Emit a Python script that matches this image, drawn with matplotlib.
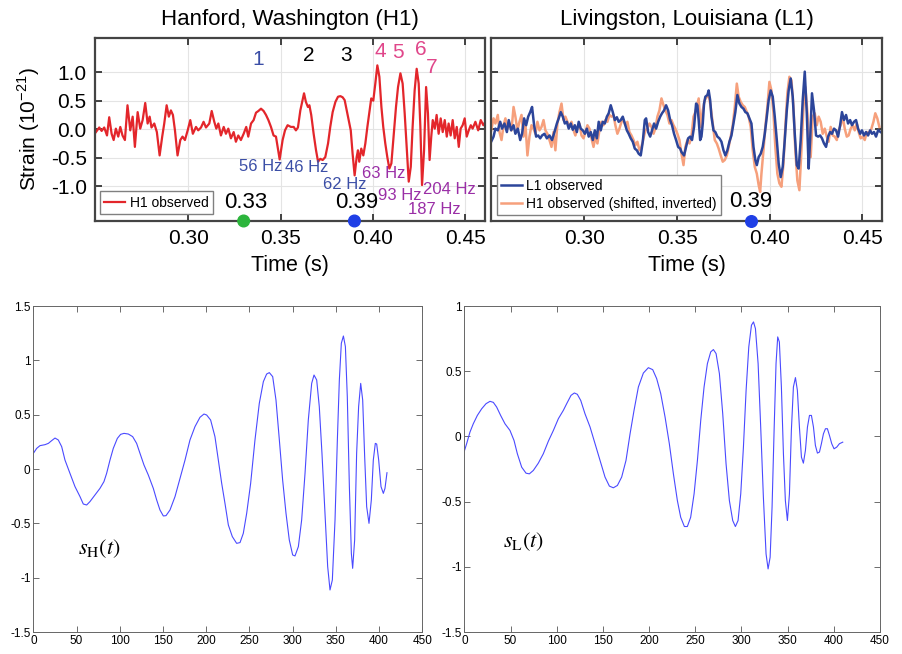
"""
GW150914: observed strain at H1 / L1 (top) and the fitted waveforms s_H(t), s_L(t) (bottom)
"""
import matplotlib
matplotlib.use('Agg')
import matplotlib.pyplot as plt
import numpy as np

plt.rcParams['font.family'] = ['Liberation Sans', 'DejaVu Sans']
plt.rcParams['axes.unicode_minus'] = False

# ---- top left: H1 observed ----
h1_t = np.array([
    0.2500, 0.2518, 0.2531, 0.2545, 0.2560, 0.2572, 0.2585, 0.2596, 0.2608, 0.2621,
    0.2632, 0.2644, 0.2657, 0.2671, 0.2686, 0.2699, 0.2711, 0.2726, 0.2740, 0.2753,
    0.2767, 0.2780, 0.2791, 0.2801, 0.2816, 0.2830, 0.2845, 0.2859, 0.2870, 0.2883,
    0.2895, 0.2906, 0.2917, 0.2928, 0.2942, 0.2957, 0.2969, 0.2982, 0.2997, 0.3011,
    0.3025, 0.3042, 0.3054, 0.3069, 0.3083, 0.3096, 0.3114, 0.3127, 0.3141, 0.3152,
    0.3163, 0.3177, 0.3192, 0.3204, 0.3217, 0.3231, 0.3246, 0.3258, 0.3271, 0.3285,
    0.3300, 0.3314, 0.3325, 0.3340, 0.3354, 0.3367, 0.3380, 0.3394, 0.3408, 0.3421,
    0.3434, 0.3448, 0.3462, 0.3475, 0.3484, 0.3495, 0.3511, 0.3524, 0.3538, 0.3556,
    0.3571, 0.3583, 0.3594, 0.3607, 0.3619, 0.3627, 0.3637, 0.3648, 0.3656,
    0.3666, 0.3679, 0.3692, 0.3703, 0.3715, 0.3728, 0.3742, 0.3757, 0.3769, 0.3782,
    0.3797, 0.3811, 0.3824, 0.3836, 0.3847, 0.3860, 0.3869, 0.3880, 0.3890, 0.3901,
    0.3912, 0.3919, 0.3926, 0.3937, 0.3948, 0.3959, 0.3970, 0.3981, 0.3991, 0.4002,
    0.4013, 0.4024, 0.4035, 0.4046, 0.4056, 0.4067, 0.4078, 0.4089, 0.4100, 0.4112,
    0.4125, 0.4136, 0.4149, 0.4161, 0.4172, 0.4183, 0.4194, 0.4205, 0.4215, 0.4226,
    0.4237, 0.4248, 0.4257, 0.4266, 0.4277, 0.4288, 0.4298, 0.4307, 0.4316, 0.4324,
    0.4335, 0.4345, 0.4356, 0.4367, 0.4378, 0.4389, 0.4400, 0.4410, 0.4421, 0.4432,
    0.4443, 0.4454, 0.4465, 0.4475, 0.4486, 0.4497, 0.4508, 0.4519, 0.4530, 0.4540,
    0.4555, 0.4570, 0.4584, 0.4598, 0.4609])
h1_strain = np.array([
    -0.05, 0.03, -0.03, 0.03, -0.11, 0.21, -0.08, -0.19, 0.01, -0.13,
    0.04, -0.11, -0.19, 0.42, -0.02, 0.22, -0.31, 0.30, 0.01, 0.16,
    0.46, 0.10, 0.22, 0.03, 0.10, -0.05, -0.46, -0.13, 0.10, 0.42,
    0.22, 0.33, 0.25, -0.02, -0.46, -0.19, -0.13, -0.19, -0.02, 0.16,
    -0.08, 0.04, -0.02, 0.03, 0.13, 0.03, 0.10, 0.32, 0.13, 0.01,
    0.10, -0.11, 0.04, -0.08, 0.01, -0.16, -0.05, -0.22, -0.11, -0.19,
    -0.08, 0.04, -0.13, 0.10, 0.16, 0.29, 0.32, 0.36, 0.32, 0.25,
    0.16, 0.04, -0.11, -0.13, -0.31, -0.53, -0.19, -0.02, 0.07, 0.04,
    0.04, -0.02, 0.03, 0.33, 0.51, 0.63, 0.48, 0.39, 0.42,
    0.25, -0.08, -0.37, -0.57, -0.52, -0.54, -0.49, -0.25, 0.04, 0.30,
    0.48, 0.57, 0.58, 0.56, 0.51, 0.30, 0.16, -0.02, -0.43, -0.81,
    -0.49, -0.37, -0.57, -0.34, -0.46, -0.25, 0.04, 0.30, 0.54, 0.50,
    0.80, 1.12, 0.92, 0.39, 0.04, -0.25, -0.49, -0.69, -0.60, -0.13,
    0.39, 0.74, 0.98, 0.80, 0.28, -0.31, -0.92, -0.66, 0.04, 0.68,
    1.06, 0.80, 0.04, -0.98, -0.37, 0.74, 0.28, -0.54, -0.13, 0.16,
    0.01, 0.25, -0.08, 0.19, -0.05, 0.16, -0.13, 0.10, -0.11, 0.16,
    -0.16, 0.04, -0.31, 0.01, 0.07, 0.19, -0.13, -0.02, 0.07, 0.01,
    0.13, -0.02, 0.16, 0.07, 0.13])

# ---- top right: L1 observed ----
l1_t = np.array([
    0.2496, 0.2509, 0.2519, 0.2532, 0.2545, 0.2555, 0.2568, 0.2581, 0.2591, 0.2604,
    0.2617, 0.2627, 0.2640, 0.2653, 0.2663, 0.2674, 0.2685, 0.2696, 0.2707, 0.2717,
    0.2728, 0.2739, 0.2750, 0.2761, 0.2771, 0.2784, 0.2797, 0.2811, 0.2825, 0.2838,
    0.2851, 0.2861, 0.2872, 0.2883, 0.2894, 0.2905, 0.2915, 0.2926, 0.2937, 0.2948,
    0.2959, 0.2969, 0.2980, 0.2991, 0.3002, 0.3013, 0.3023, 0.3034, 0.3045, 0.3056,
    0.3067, 0.3077, 0.3088, 0.3099, 0.3110, 0.3121, 0.3131, 0.3142, 0.3153, 0.3164,
    0.3175, 0.3185, 0.3196, 0.3207, 0.3218, 0.3229, 0.3239, 0.3250, 0.3261, 0.3272,
    0.3283, 0.3293, 0.3304, 0.3315, 0.3326, 0.3333, 0.3344, 0.3355, 0.3365, 0.3376,
    0.3387, 0.3398, 0.3409, 0.3419, 0.3430, 0.3441, 0.3452, 0.3463, 0.3473, 0.3484,
    0.3495, 0.3506, 0.3517,
    0.3524, 0.3538, 0.3549, 0.3560, 0.3571, 0.3581, 0.3592, 0.3603, 0.3610, 0.3617,
    0.3625, 0.3632, 0.3639, 0.3646, 0.3653, 0.3664, 0.3671, 0.3679, 0.3686, 0.3697,
    0.3707, 0.3718, 0.3729, 0.3740, 0.3751, 0.3761, 0.3772, 0.3783, 0.3794, 0.3805,
    0.3815, 0.3826, 0.3837, 0.3848, 0.3859, 0.3869, 0.3880, 0.3891, 0.3902, 0.3913,
    0.3923, 0.3931, 0.3941, 0.3952, 0.3963, 0.3974, 0.3985, 0.3995, 0.4006, 0.4017,
    0.4028, 0.4039, 0.4049, 0.4060, 0.4071, 0.4082, 0.4093, 0.4103, 0.4114, 0.4125,
    0.4136, 0.4147, 0.4157, 0.4168, 0.4179, 0.4190, 0.4201, 0.4211, 0.4219, 0.4229,
    0.4240, 0.4251, 0.4262, 0.4273, 0.4283, 0.4294, 0.4305, 0.4316, 0.4327, 0.4337,
    0.4348, 0.4359, 0.4370, 0.4381, 0.4391, 0.4402, 0.4413, 0.4424, 0.4435, 0.4445,
    0.4456, 0.4467, 0.4478, 0.4489, 0.4499, 0.4510, 0.4521, 0.4532, 0.4543, 0.4553,
    0.4564, 0.4575, 0.4586, 0.4600])
l1_strain = np.array([
    -0.22, -0.13, 0.01, -0.02, 0.13, 0.01, 0.10, -0.05, 0.16, -0.02,
    0.07, -0.08, 0.01, -0.19, -0.08, 0.19, 0.07, 0.22, 0.30, 0.39,
    0.07, -0.13, -0.11, -0.16, -0.11, -0.08, -0.16, -0.11, -0.19, -0.05,
    0.10, 0.19, 0.30, 0.22, 0.10, 0.13, 0.01, 0.10, -0.01, 0.07,
    -0.05, 0.13, 0.01, -0.02, -0.08, 0.01, -0.13, -0.05, -0.19, -0.02,
    -0.16, 0.13, -0.02, 0.13, 0.10, 0.22, 0.28, 0.42, 0.30, 0.16,
    0.21, 0.13, 0.16, 0.22, 0.10, -0.02, -0.08, -0.16, -0.22, -0.34,
    -0.37, -0.43, -0.46, -0.22, 0.16, 0.19, -0.05, -0.13, -0.02, 0.10,
    0.01, 0.13, 0.22, 0.28, 0.33, 0.42, 0.33, 0.16, 0.07, -0.08,
    -0.19, -0.31, -0.34,
    -0.40, -0.46, -0.31, -0.16, -0.13, -0.19, 0.04, 0.45, 0.42, 0.16,
    -0.19, -0.13, 0.10, 0.45, 0.57, 0.60, 0.68, 0.51, 0.22, -0.02,
    -0.05, -0.13, -0.16, -0.22, -0.37, -0.46, -0.37, -0.22, -0.11, 0.10,
    0.30, 0.60, 0.45, 0.39, 0.36, 0.30, 0.28, 0.19, 0.10, -0.31,
    -0.54, -0.63, -0.49, -0.43, -0.31, -0.08, 0.22, 0.51, 0.68, 0.57,
    0.22, -0.19, -0.60, -0.84, -0.66, -0.19, 0.33, 0.68, 0.89, 0.57,
    -0.08, -0.63, -0.69, -0.19, 0.51, 1.01, 0.28, -0.69, -0.19, 0.63,
    0.33, -0.11, -0.13, -0.11, -0.16, -0.25, -0.31, -0.13, -0.05, -0.08,
    0.01, -0.02, -0.13, 0.07, 0.30, 0.16, 0.25, 0.10, 0.16, 0.07,
    0.13, 0.16, 0.01, -0.08, -0.02, -0.11, -0.05, -0.11, -0.02, -0.08,
    -0.05, -0.13, -0.02, -0.05])

# ---- top right: H1 shifted and inverted ----
h1s_t = np.array([
    0.2496, 0.2509, 0.2519, 0.2532, 0.2541, 0.2552, 0.2563, 0.2573, 0.2584, 0.2595,
    0.2606, 0.2617, 0.2627, 0.2638, 0.2649, 0.2660, 0.2671, 0.2681, 0.2692, 0.2703,
    0.2714, 0.2725, 0.2735, 0.2746, 0.2757, 0.2768, 0.2779, 0.2789, 0.2800, 0.2811,
    0.2822, 0.2833, 0.2843, 0.2854, 0.2865, 0.2876, 0.2887, 0.2897, 0.2908, 0.2919,
    0.2930, 0.2941, 0.2951, 0.2962, 0.2973, 0.2984, 0.2995, 0.3005, 0.3016, 0.3027,
    0.3038, 0.3049, 0.3059, 0.3070, 0.3081, 0.3092, 0.3103, 0.3113, 0.3124, 0.3135,
    0.3146, 0.3157, 0.3167, 0.3178, 0.3189, 0.3200, 0.3211, 0.3221, 0.3232, 0.3243,
    0.3254, 0.3265, 0.3275, 0.3286, 0.3297, 0.3308, 0.3319, 0.3329, 0.3340, 0.3351,
    0.3362, 0.3373, 0.3383, 0.3394, 0.3405, 0.3416, 0.3427, 0.3437, 0.3448, 0.3459,
    0.3470, 0.3481, 0.3491, 0.3502, 0.3513,
    0.3524, 0.3535, 0.3545, 0.3556, 0.3567, 0.3578, 0.3589, 0.3599, 0.3610, 0.3617,
    0.3628, 0.3639, 0.3650, 0.3661, 0.3671, 0.3682, 0.3693, 0.3704, 0.3715, 0.3725,
    0.3736, 0.3747, 0.3758, 0.3769, 0.3779, 0.3790, 0.3801, 0.3812, 0.3823, 0.3833,
    0.3844, 0.3855, 0.3866, 0.3877, 0.3887, 0.3898, 0.3909, 0.3920, 0.3931, 0.3941,
    0.3949, 0.3956, 0.3967, 0.3977, 0.3988, 0.3999, 0.4010, 0.4021, 0.4031, 0.4042,
    0.4053, 0.4064, 0.4075, 0.4085, 0.4096, 0.4107, 0.4118, 0.4129, 0.4139, 0.4150,
    0.4161, 0.4172, 0.4183, 0.4193, 0.4204, 0.4215, 0.4222, 0.4233, 0.4244, 0.4255,
    0.4265, 0.4276, 0.4287, 0.4298, 0.4309, 0.4319, 0.4330, 0.4341, 0.4352, 0.4363,
    0.4373, 0.4384, 0.4395, 0.4406, 0.4417, 0.4427, 0.4438, 0.4449, 0.4460, 0.4471,
    0.4481, 0.4492, 0.4503, 0.4514, 0.4525, 0.4535, 0.4550, 0.4561, 0.4571, 0.4582,
    0.4593])
h1s_strain = np.array([
    -0.02, 0.19, 0.10, 0.25, -0.05, -0.19, 0.07, 0.19, 0.01, 0.10,
    -0.02, 0.39, 0.22, -0.02, 0.13, 0.25, -0.13, 0.10, -0.46, -0.13,
    0.07, 0.01, -0.08, 0.13, -0.02, 0.04, 0.16, -0.02, -0.08, -0.19,
    -0.31, -0.05, -0.37, 0.10, 0.30, 0.45, 0.16, 0.22, 0.13, 0.04,
    0.13, -0.02, -0.11, 0.04, 0.10, -0.11, -0.16, -0.05, 0.07, 0.01,
    -0.16, -0.31, -0.13, -0.25, -0.02, 0.13, 0.07, 0.16, 0.13, 0.25,
    0.22, 0.25, 0.07, -0.08, 0.01, 0.13, 0.16, 0.07, 0.13, -0.05,
    -0.11, -0.19, -0.28, -0.22, -0.37, -0.31, -0.16, -0.02, 0.01, 0.10,
    0.04, -0.08, 0.01, 0.22, 0.33, 0.54, 0.42, 0.33, 0.25, 0.10,
    0.16, 0.07, 0.01, -0.08, -0.19,
    -0.43, -0.63, -0.31, -0.19, -0.25, -0.13, 0.22, 0.30, 0.45, 0.54,
    0.04, 0.33, 0.51, 0.57, 0.60, 0.39, 0.10, -0.19, -0.25, -0.34,
    -0.46, -0.57, -0.54, -0.46, -0.31, -0.13, 0.07, 0.39, 0.80, 0.57,
    0.48, 0.42, 0.39, 0.30, 0.22, 0.04, -0.37, -0.66, -0.78, -0.98,
    -1.10, -0.78, -0.37, 0.04, 0.39, 0.83, 0.68, 0.28, -0.31, -0.78,
    -0.95, -1.01, -0.60, 0.04, 0.63, 0.92, 0.86, 0.39, -0.37, -0.90,
    -1.07, -0.37, 0.39, 0.74, 0.30, -0.37, -0.49, 0.22, 0.28, 0.07,
    0.22, 0.13, -0.08, 0.01, -0.13, -0.22, 0.04, -0.11, -0.13, -0.19,
    -0.02, 0.07, 0.22, 0.01, -0.13, -0.11, 0.01, 0.07, -0.02, 0.10,
    -0.05, -0.16, -0.13, -0.19, -0.05, -0.08, 0.01, 0.13, 0.28, 0.19,
    0.04])

# ---- bottom: fitted waveforms ----
sh_x = np.array([
    0, 3.9, 7.7, 13.5, 17.4, 21.2, 25.1, 28.9, 32.8, 36.6,
    42.4, 48.2, 54.0, 57.8, 61.7, 65.5, 71.3, 77.1, 81.7, 84.8,
    88.7, 92.5, 97.2, 101.0, 104.9, 109.9, 114.9, 119.5, 123.4, 128.0,
    133.0, 138.8, 142.7, 146.5, 150.4, 153.5, 158.1, 163.9, 169.7, 175.5,
    181.2, 187.0, 192.8, 197.4, 200.5, 205.1, 210.1, 214.0, 217.9, 221.7,
    225.6, 230.2, 235.2, 239.1, 242.9, 246.8, 251.4, 256.4, 261.4, 266.1,
    269.9, 273.0, 276.9, 280.7, 284.6, 288.4, 292.3, 296.1, 300.0, 302.7,
    306.6, 310.4, 314.3, 318.1, 322.0, 324.7, 327.8, 330.8, 333.9, 337.4,
    340.5, 343.2, 345.9, 349.0, 351.7, 354.0, 356.3, 358.7, 361.0, 363.2,
    365.6, 367.9, 369.4, 371.7, 374.0, 376.3, 378.7, 381.0, 383.3, 385.6,
    388.3, 391.0, 393.3, 395.6, 397.2, 399.5, 402.2, 404.9, 406.8, 409.1])
sh_y = np.array([
    0.144, 0.190, 0.215, 0.224, 0.236, 0.261, 0.285, 0.267, 0.206, 0.083,
    -0.040, -0.162, -0.254, -0.322, -0.331, -0.300, -0.239, -0.178, -0.116, -0.040,
    0.083, 0.190, 0.282, 0.319, 0.328, 0.322, 0.298, 0.236, 0.144, 0.037,
    -0.055, -0.178, -0.285, -0.377, -0.432, -0.429, -0.377, -0.254, -0.086, 0.083,
    0.267, 0.390, 0.476, 0.506, 0.497, 0.451, 0.298, 0.083, -0.132, -0.316,
    -0.515, -0.622, -0.684, -0.677, -0.592, -0.408, -0.132, 0.267, 0.604, 0.804,
    0.874, 0.887, 0.850, 0.635, 0.267, -0.101, -0.408, -0.653, -0.791, -0.800,
    -0.714, -0.469, -0.040, 0.451, 0.788, 0.865, 0.819, 0.574, 0.144, -0.408,
    -0.898, -1.113, -1.021, -0.469, 0.267, 0.819, 1.157, 1.224, 1.126, 0.666,
    -0.162, -0.776, -0.914, -0.653, 0.144, 0.574, 0.788, 0.635, 0.113, -0.346,
    -0.500, -0.285, 0.083, 0.236, 0.230, 0.083, -0.162, -0.224, -0.178, -0.034])

sl_x = np.array([
    0, 2.5, 6.1, 9.7, 14.1, 18.8, 23.5, 27.8, 31.4, 35.0,
    39.3, 44.0, 49.4, 53.8, 57.4, 62.1, 66.8, 70.4, 74.7, 80.1,
    85.5, 91.0, 96.4, 101.8, 107.2, 110.8, 115.5, 119.1, 122.3, 126.0,
    130.6, 136.1, 141.5, 146.9, 152.3, 157.0, 161.3, 165.7, 170.3, 175.0,
    179.4, 183.7, 188.4, 193.8, 199.2, 203.9, 208.2, 212.6, 217.3, 221.9,
    226.3, 230.6, 234.2, 238.2, 241.4, 245.0, 248.7, 252.3, 255.9, 259.5,
    263.1, 266.7, 269.6, 272.5, 276.1, 279.7, 283.3, 286.9, 290.5, 293.4,
    296.3, 299.2, 302.1, 305.0, 307.9, 310.8, 313.0, 315.1, 318.0, 320.8,
    323.7, 326.6, 328.8, 331.0, 333.1, 335.3, 337.4, 339.2, 341.0, 343.2,
    345.4, 347.5, 349.7, 351.9, 354.0, 356.2, 358.4, 360.5, 362.7, 364.9,
    367.0, 369.2, 371.4, 373.6, 375.7, 377.9, 380.0, 382.2, 384.4, 386.5,
    388.7, 390.9, 393.0, 395.2, 397.7, 400.2, 403.1, 406.0, 409.6])
sl_y = np.array([
    -0.113, -0.056, 0.033, 0.097, 0.161, 0.212, 0.251, 0.269, 0.261, 0.225,
    0.161, 0.097, 0.046, -0.031, -0.133, -0.236, -0.282, -0.287, -0.261, -0.205,
    -0.133, -0.036, 0.046, 0.136, 0.200, 0.251, 0.315, 0.333, 0.323, 0.276,
    0.174, 0.072, -0.056, -0.184, -0.312, -0.381, -0.394, -0.376, -0.312, -0.184,
    0.020, 0.200, 0.379, 0.486, 0.527, 0.512, 0.443, 0.328, 0.148, -0.056,
    -0.287, -0.492, -0.620, -0.691, -0.691, -0.620, -0.440, -0.184, 0.123, 0.379,
    0.558, 0.648, 0.666, 0.635, 0.481, 0.174, -0.210, -0.492, -0.645, -0.691,
    -0.645, -0.440, -0.082, 0.353, 0.686, 0.853, 0.878, 0.827, 0.558, 0.072,
    -0.466, -0.901, -1.016, -0.927, -0.543, 0.046, 0.558, 0.763, 0.724, 0.379,
    -0.133, -0.492, -0.645, -0.440, 0.046, 0.379, 0.451, 0.353, 0.072, -0.159,
    -0.205, -0.108, 0.072, 0.161, 0.161, 0.072, -0.069, -0.128, -0.120, -0.056,
    0.020, 0.059, 0.059, 0.008, -0.056, -0.095, -0.082, -0.056, -0.044])

time_ticks = [0.30, 0.35, 0.40, 0.45]
strain_ticks = [-1.0, -0.5, 0.0, 0.5, 1.0]
marker_times = [0.33, 0.39]
cycle_labels = ['1', '2', '3', '4', '5', '6', '7']
freq_labels = ['56 Hz', '46 Hz', '62 Hz', '63 Hz', '93 Hz', '204 Hz', '187 Hz']

BLUE_TXT = '#3b4ea6'
PINK_TXT = '#e0468a'
PURPLE_TXT = '#9a2ea6'

fig = plt.figure(figsize=(9.03, 6.54), dpi=100)
ax1 = fig.add_axes([0.1052, 0.6621, 0.4319, 0.2798])
ax2 = fig.add_axes([0.5437, 0.6621, 0.4330, 0.2798])
ax3 = fig.add_axes([0.0369, 0.0336, 0.4308, 0.4985])
ax4 = fig.add_axes([0.5142, 0.0336, 0.4604, 0.4985])

for ax in (ax1, ax2):
    ax.set_xlim(0.2495, 0.4607)
    ax.set_ylim(-1.61, 1.60)
    ax.set_xticks(time_ticks)
    ax.set_yticks(strain_ticks)
    ax.xaxis.set_major_formatter(plt.FuncFormatter(lambda v, _: f'{v:.2f}'))
    ax.yaxis.set_major_formatter(plt.FuncFormatter(lambda v, _: f'{v:.1f}'))
    ax.grid(True, color='#e4e4e4', linewidth=0.8)
    ax.set_axisbelow(True)
    ax.tick_params(direction='in', top=True, right=True, length=5, width=1.3,
                   color='#333333', labelsize=15, pad=6)
    for sp in ax.spines.values():
        sp.set_color('#444444')
        sp.set_linewidth(1.6)
    ax.set_xlabel('Time (s)', fontsize=15.5, labelpad=5)

# H1 panel
ax1.plot(h1_t, h1_strain, color='#e3262b', linewidth=1.6, label='H1 observed')
ax1.set_title('Hanford, Washington (H1)', fontsize=16, pad=9)
ax1.set_ylabel('Strain (10$^{\\mathregular{-21}}$)', fontsize=15, labelpad=6)
ax1.legend(loc='lower left', bbox_to_anchor=(0.012, 0.04), borderaxespad=0,
           fontsize=10, fancybox=False, edgecolor='#808080', framealpha=1,
           handlelength=1.5, handletextpad=0.4, borderpad=0.3)

cycle_pos = [(0.3379, 1.23), (0.3650, 1.30), (0.3856, 1.30), (0.4040, 1.37),
             (0.4138, 1.35), (0.4262, 1.40), (0.4316, 1.09)]
cycle_col = [BLUE_TXT, 'black', 'black', PINK_TXT, PINK_TXT, PINK_TXT, PINK_TXT]
for lab, (x, y), c in zip(cycle_labels, cycle_pos, cycle_col):
    ax1.text(x, y, lab, color=c, fontsize=15, ha='center', va='center')

freq_pos = [(0.3390, -0.65), (0.3639, -0.68), (0.3845, -0.97), (0.4056, -0.77),
            (0.4148, -1.17), (0.4414, -1.05), (0.4333, -1.40)]
freq_col = [BLUE_TXT, BLUE_TXT, BLUE_TXT, PURPLE_TXT, PURPLE_TXT, PURPLE_TXT, PURPLE_TXT]
for lab, (x, y), c in zip(freq_labels, freq_pos, freq_col):
    ax1.text(x, y, lab, color=c, fontsize=12, ha='center', va='center')

ax1.text(0.3309, -1.28, f'{marker_times[0]:.2f}', fontsize=16, ha='center', va='center')
ax1.text(0.3910, -1.28, f'{marker_times[1]:.2f}', fontsize=16, ha='center', va='center')
ax1.scatter(marker_times, [-1.61, -1.61], s=70, c=['#2cb53c', '#1f3fe6'],
            zorder=5, clip_on=False)

# L1 panel
ax2.plot(h1s_t, h1s_strain, color='#f6a07c', linewidth=1.8,
         label='H1 observed (shifted, inverted)')
ax2.plot(l1_t, l1_strain, color='#2c459a', linewidth=1.8, label='L1 observed')
ax2.set_title('Livingston, Louisiana (L1)', fontsize=16, pad=9)
ax2.set_yticklabels([])
hnd, lbl = ax2.get_legend_handles_labels()
ax2.legend(hnd[::-1], lbl[::-1], loc='lower left', bbox_to_anchor=(0.015, 0.03),
           borderaxespad=0, fontsize=10, fancybox=False, edgecolor='#808080',
           framealpha=1, handlelength=1.5, handletextpad=0.3, borderpad=0.3,
           labelspacing=0.3)
ax2.text(0.3896, -1.26, f'{marker_times[1]:.2f}', fontsize=16, ha='center', va='center')
ax2.scatter([marker_times[1]], [-1.61], s=70, c='#1f3fe6', zorder=5, clip_on=False)

# bottom waveforms
for ax, x, y, lab, ylim, yt, lpos in (
        (ax3, sh_x, sh_y, r'$s_{\mathrm{H}}(t)$', (-1.5, 1.5),
         [-1.5, -1, -0.5, 0, 0.5, 1, 1.5], (52, -0.73)),
        (ax4, sl_x, sl_y, r'$s_{\mathrm{L}}(t)$', (-1.5, 1.0),
         [-1.5, -1, -0.5, 0, 0.5, 1], (42, -0.81))):
    ax.plot(x, y, color='#4a4aff', linewidth=0.8)
    ax.set_xlim(0, 450)
    ax.set_ylim(*ylim)
    ax.set_xticks(range(0, 451, 50))
    ax.set_yticks(yt)
    ax.yaxis.set_major_formatter(plt.FuncFormatter(lambda v, _: f'{v:g}'))
    ax.tick_params(direction='in', top=True, right=True, length=4, width=0.6,
                   color='#555555', labelsize=8.5, pad=2)
    for sp in ax.spines.values():
        sp.set_color('#666666')
        sp.set_linewidth(0.7)
    ax.text(lpos[0], lpos[1], lab, fontsize=16, math_fontfamily='stix',
            ha='left', va='center')

fig.savefig('out.png', dpi=100)
print("saved: out.png")
